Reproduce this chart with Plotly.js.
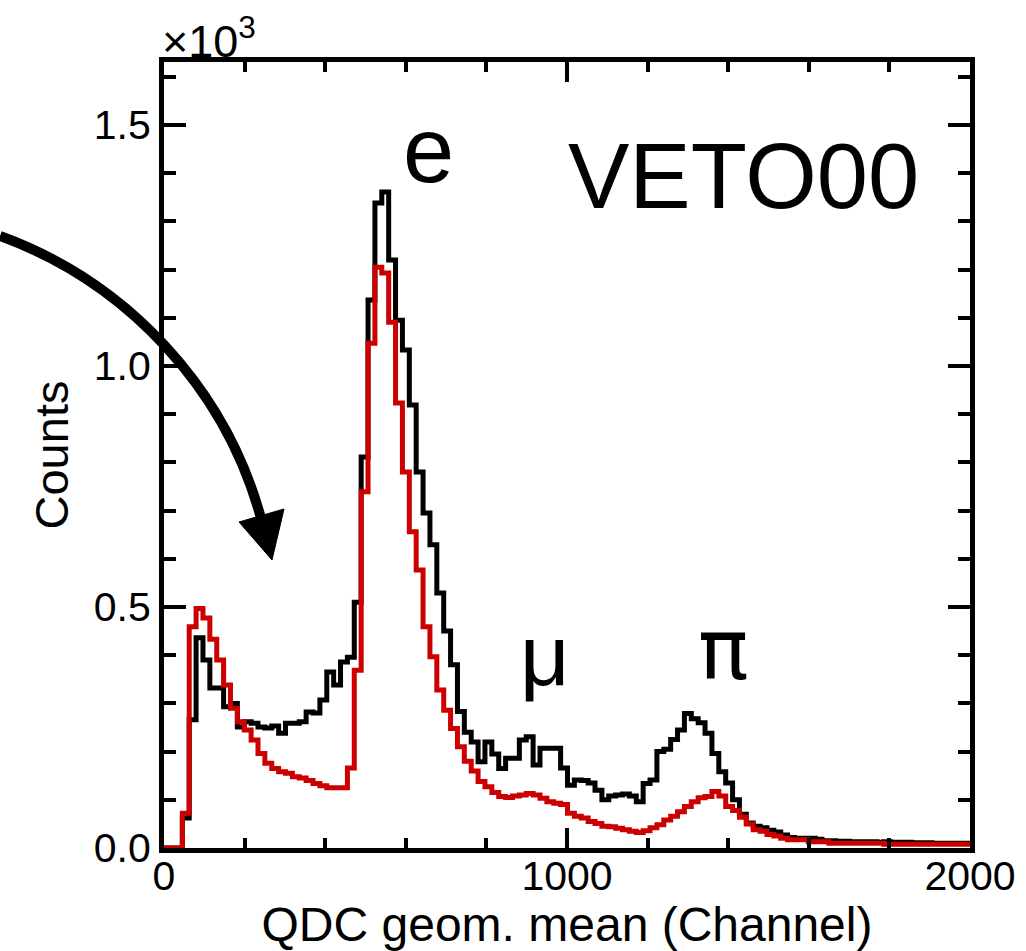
<!DOCTYPE html>
<html>
<head>
<meta charset="utf-8">
<script src="https://cdn.plot.ly/plotly-3.0.1.min.js"></script>
<style>
  html, body { margin: 0; padding: 0; background: #ffffff; }
  #chart { width: 1026px; height: 951px; }
</style>
</head>
<body>
<div id="chart"></div>
<script>
// Histogram binning (channels)
const binWidth = 4096 / 240;
const firstEdge = -5.7;

// Black histogram (all events), counts per bin
const blackCounts = [
  0, 0, 0, 62, 266, 436, 390, 332, 332, 293,
  300, 251, 262, 259, 251, 249, 253, 238, 259, 259,
  262, 282, 280, 307, 365, 338, 386, 396, 510, 811,
  1137, 1338, 1361, 1220, 1095, 1033, 919, 780, 695, 629,
  529, 450, 380, 283, 240, 220, 179, 220, 195, 165,
  186, 186, 224, 231, 172, 207, 207, 207, 166, 130,
  141, 140, 135, 120, 100, 108, 110, 112, 108, 96,
  134, 141, 200, 205, 225, 245, 279, 268, 260, 238,
  196, 158, 135, 100, 70, 52, 45, 42, 37, 33,
  27, 22, 20, 20, 20, 18, 15, 15, 14, 14,
  13, 13, 13, 13, 12, 13, 12, 12, 12, 11,
  11, 11, 10, 10, 10, 10, 10, 10, 10
];

// Red histogram (selected events), counts per bin
const redCounts = [
  0, 0, 0, 72, 459, 497, 477, 433, 390, 338,
  290, 262, 245, 224, 196, 176, 165, 158, 155, 148,
  145, 140, 134, 129, 125, 125, 125, 166, 369, 739,
  1047, 1205, 1193, 1091, 923, 780, 656, 577, 459, 397,
  328, 286, 248, 210, 180, 160, 138, 127, 115, 107,
  105, 108, 110, 113, 110, 103, 96, 93, 90, 72,
  66, 62, 55, 51, 45, 44, 41, 38, 35, 32,
  36, 42, 48, 58, 66, 75, 86, 96, 104, 107,
  117, 108, 86, 78, 64, 50, 38, 35, 28, 25,
  20, 17, 17, 17, 13, 13, 13, 10, 10, 10,
  10, 10, 10, 10, 10, 8, 8, 8, 8, 8,
  8, 8, 8, 8, 8, 8, 8, 8, 8
];

// Axis tick labels
const yTickVals = [0, 500, 1000, 1500];
const yTickText = ['0.0', '0.5', '1.0', '1.5'];
const xTickVals = [0, 1000, 2000];
const xTickText = ['0', '1000', '2000'];

// Text labels
const peakLabels = [
  { text: 'e',  px: 428, py: 150, size: 92, family: 'Liberation Sans, Arial, sans-serif' },
  { text: 'μ',  px: 545, py: 655, size: 86, family: 'Liberation Sans, Arial, sans-serif' },
  { text: 'π',  px: 723, py: 650, size: 84, family: 'DejaVu Sans, sans-serif' }
];
const detectorLabel = 'VETO00';

function stepTrace(counts, color) {
  const x = [], y = [];
  for (let i = 0; i < counts.length; i++) {
    x.push(firstEdge + i * binWidth);
    y.push(counts[i]);
  }
  x.push(firstEdge + counts.length * binWidth);
  y.push(counts[counts.length - 1]);
  return {
    type: 'scatter', mode: 'lines', x: x, y: y,
    line: { shape: 'hv', color: color, width: 5 },
    hoverinfo: 'skip'
  };
}

// plot area geometry (pixels)
const L = 164, R = 56, T = 62, B = 103;
const W = 1026 - L - R, H = 951 - T - B;
const px2x = p => (p - L) / W;
const py2y = p => (951 - B - p) / H;

function pathFrom(points) {
  return points.map(seg => {
    const cmd = seg[0];
    const nums = [];
    for (let i = 1; i < seg.length; i += 2) {
      nums.push(px2x(seg[i]).toFixed(5) + ',' + py2y(seg[i + 1]).toFixed(5));
    }
    return cmd + nums.join(' ');
  }).join(' ');
}

const arrowBody = pathFrom([
  ['M', 0, 236],
  ['C', 127, 282, 227, 389, 262, 522]
]);
const arrowHead = pathFrom([
  ['M', 272, 560],
  ['L', 239, 522],
  ['L', 284, 509],
  ['Z']
]);

const annotations = [
  {
    xref: 'paper', yref: 'paper', x: px2x(160), y: py2y(38),
    xanchor: 'left', yanchor: 'middle', showarrow: false,
    text: '×10<sup>3</sup>', font: { size: 45, color: '#000' }
  },
  {
    xref: 'paper', yref: 'paper', x: px2x(743), y: py2y(176),
    xanchor: 'center', yanchor: 'middle', showarrow: false,
    text: detectorLabel, font: { size: 92, color: '#000' }
  }
].concat(peakLabels.map(l => ({
  xref: 'paper', yref: 'paper', x: px2x(l.px), y: py2y(l.py),
  xanchor: 'center', yanchor: 'middle', showarrow: false,
  text: l.text, font: { size: l.size, color: '#000', family: l.family }
})));

const layout = {
  width: 1026, height: 951,
  margin: { l: L, r: R, t: T, b: B, pad: 0 },
  paper_bgcolor: '#ffffff', plot_bgcolor: '#ffffff',
  showlegend: false,
  font: { family: 'Liberation Sans, Arial, Helvetica, sans-serif', color: '#000' },
  xaxis: {
    range: [0, 2000], autorange: false,
    showgrid: false, zeroline: false,
    showline: true, linewidth: 5, linecolor: '#000', mirror: 'allticks',
    ticks: 'inside', ticklen: 20, tickwidth: 4, tickcolor: '#000',
    tickmode: 'array', tickvals: xTickVals, ticktext: xTickText,
    tickfont: { size: 41, color: '#000' },
    ticklabelstandoff: -12,
    minor: { dtick: 200, tick0: 0, ticks: 'inside', ticklen: 10, tickwidth: 4, tickcolor: '#000', showgrid: false },
    title: { text: 'QDC geom. mean (Channel)', font: { size: 48, color: '#000' }, standoff: 3 }
  },
  yaxis: {
    range: [0, H / 0.482], autorange: false,
    showgrid: false, zeroline: false,
    showline: true, linewidth: 5, linecolor: '#000', mirror: 'allticks',
    ticks: 'inside', ticklen: 22, tickwidth: 4, tickcolor: '#000',
    tickmode: 'array', tickvals: yTickVals, ticktext: yTickText,
    tickfont: { size: 41, color: '#000' },
    minor: { dtick: 100, tick0: 0, ticks: 'inside', ticklen: 12, tickwidth: 4, tickcolor: '#000', showgrid: false },
    title: { text: 'Counts', font: { size: 47, color: '#000' }, standoff: 12 }
  },
  shapes: [
    { type: 'path', xref: 'paper', yref: 'paper', path: arrowBody,
      line: { color: '#000', width: 10 }, layer: 'above' },
    { type: 'path', xref: 'paper', yref: 'paper', path: arrowHead,
      fillcolor: '#000', line: { color: '#000', width: 1 }, layer: 'above' }
  ],
  annotations: annotations
};

Plotly.newPlot('chart', [stepTrace(blackCounts, '#000000'), stepTrace(redCounts, '#cc0000')], layout,
  { displayModeBar: false, staticPlot: true });
</script>
</body>
</html>
